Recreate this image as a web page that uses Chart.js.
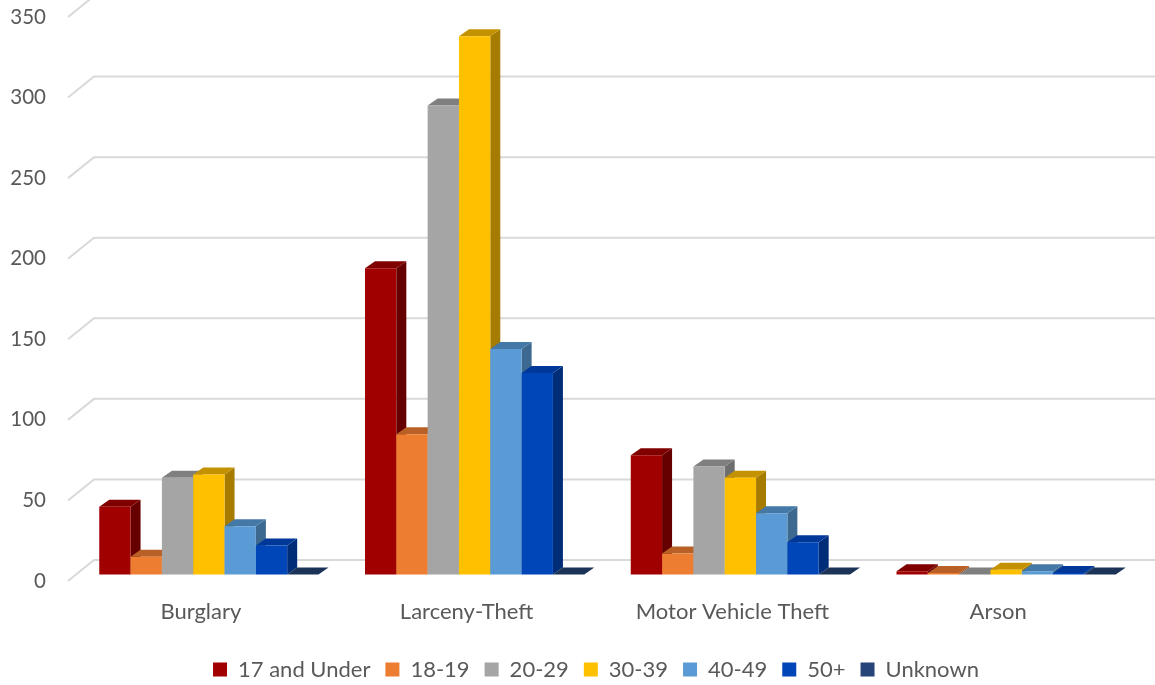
<!DOCTYPE html>
<html>
<head>
<meta charset="utf-8">
<style>
  html, body { margin: 0; padding: 0; background: #fff; overflow: hidden; }
  canvas { display: block; }
</style>
<script src="https://cdn.jsdelivr.net/npm/chart.js@4/dist/chart.umd.min.js"></script>
</head>
<body>
<canvas id="chart" width="1155" height="685"></canvas>
<script>
const categories = ["Burglary", "Larceny-Theft", "Motor Vehicle Theft", "Arson"];
const seriesNames = ["17 and Under", "18-19", "20-29", "30-39", "40-49", "50+", "Unknown"];

const under18 = [42, 190, 74, 2];
const age18to19 = [11, 87, 13, 1];
const age20to29 = [60, 291, 67, 0];
const age30to39 = [62, 334, 60, 3];
const age40to49 = [30, 140, 38, 2];
const age50plus = [18, 125, 20, 1];
const unknown = [0, 0, 0, 0];

const seriesValues = [under18, age18to19, age20to29, age30to39, age40to49, age50plus, unknown];

const frontColors = ["#A00000", "#ED7D31", "#A5A5A5", "#FFC000", "#5B9BD5", "#0046B8", "#264478"];
const topColors = ["#800000", "#B86026", "#7F7F7F", "#C49200", "#4478A6", "#00389A", "#1C3358"];
const sideColors = ["#660000", "#96501F", "#6E6E6E", "#A67C00", "#3D6890", "#002D78", "#162A4A"];

const textColor = "#595959";

// how far the 3D box reaches behind and in front of the bar plane
const barDepth = { x: 10, y: -7 };
const wallOffset = { x: 18, y: -14.5 };
const floorOffset = { x: -8, y: 6.5 };

function face(ctx, color, pts) {
  ctx.fillStyle = color;
  ctx.beginPath();
  pts.forEach((p, i) => (i ? ctx.lineTo(p[0], p[1]) : ctx.moveTo(p[0], p[1])));
  ctx.closePath();
  ctx.fill();
}

const bars3d = {
  id: "bars3d",
  afterLayout(chart) {
    // legend sits off-centre in the original, and the category labels need room below the axis
    chart.legend.left += 53;
    chart.legend.top = 667 - chart.legend.height / 2;
    chart.scales.x.bottom = 650;
  },
  beforeDatasetsDraw(chart) {
    const { ctx, chartArea, scales } = chart;

    // gridlines: diagonal on the left wall, then along the back wall
    ctx.save();
    ctx.strokeStyle = "#D9D9D9";
    ctx.lineWidth = 2;
    scales.y.ticks.forEach((t) => {
      const y = scales.y.getPixelForValue(t.value);
      ctx.beginPath();
      ctx.moveTo(chartArea.left + floorOffset.x, y + floorOffset.y);
      ctx.lineTo(chartArea.left + wallOffset.x, y + wallOffset.y);
      ctx.lineTo(chartArea.right + wallOffset.x, y + wallOffset.y);
      ctx.stroke();
    });
    ctx.restore();

    // left to right so each bar covers the side of the one before it
    seriesValues.forEach((values, i) => {
      chart.getDatasetMeta(i).data.forEach((el) => {
        const l = el.x - el.width / 2;
        const r = el.x + el.width / 2;
        const dx = barDepth.x;
        const dy = barDepth.y;
        face(ctx, sideColors[i], [[r, el.y], [r + dx, el.y + dy], [r + dx, el.base + dy], [r, el.base]]);
        face(ctx, topColors[i], [[l, el.y], [l + dx, el.y + dy], [r + dx, el.y + dy], [r, el.y]]);
        el.draw(ctx);
      });
    });
    return false;
  },
};

new Chart(document.getElementById("chart"), {
  type: "bar",
  data: {
    labels: categories,
    datasets: seriesNames.map((name, i) => ({
      label: name,
      data: seriesValues[i],
      backgroundColor: frontColors[i],
      borderWidth: 0,
      categoryPercentage: 0.825,
      barPercentage: 1,
    })),
  },
  options: {
    responsive: false,
    animation: false,
    layout: { padding: { top: 10.5, right: 16 } },
    plugins: {
      tooltip: { enabled: false },
      legend: {
        position: "bottom",
        onClick: null,
        labels: {
          font: { family: "Lato", size: 22 },
          color: textColor,
          boxWidth: 14,
          boxHeight: 14,
          padding: 15,
        },
      },
    },
    scales: {
      x: {
        grid: { display: false, drawTicks: false },
        border: { display: false },
        ticks: {
          font: { family: "Lato", size: 22 },
          color: textColor,
          padding: 24.5,
          labelOffset: -8,
          autoSkip: false,
          maxRotation: 0,
        },
        afterFit: (s) => { s.height = 685 - 574.5 - s.chart.legend.height; },
      },
      y: {
        min: 0,
        max: 350,
        grid: { display: false, drawTicks: false },
        border: { display: false },
        ticks: {
          font: { family: "Lato", size: 20.5 },
          color: textColor,
          stepSize: 50,
          padding: 30,
          labelOffset: 6.5,
        },
        afterFit: (s) => {
          s.width = 76;
          s.paddingTop = 0;
          s.paddingBottom = 0;
        },
      },
    },
  },
  plugins: [bars3d],
});
</script>
</body>
</html>
